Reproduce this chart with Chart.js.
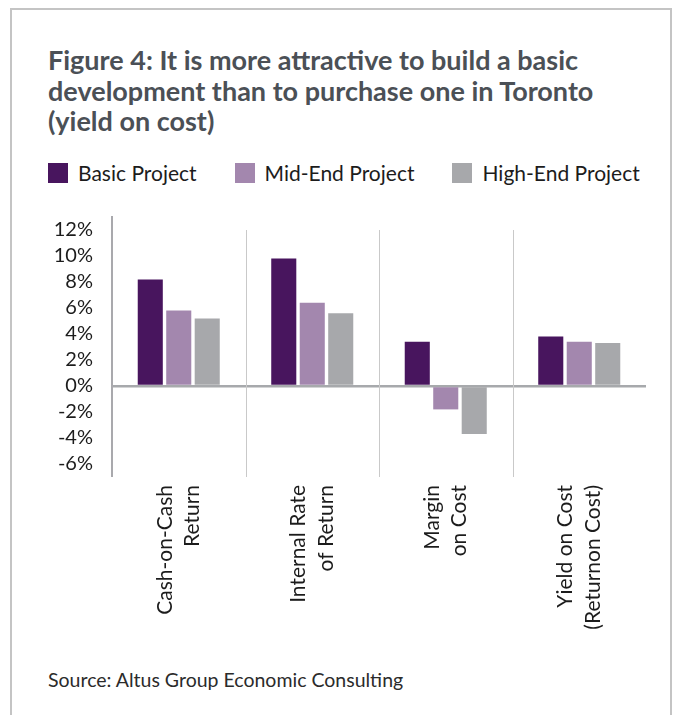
<!DOCTYPE html>
<html>
<head>
<meta charset="utf-8">
<script src="https://cdn.jsdelivr.net/npm/chart.js@4.4.1/dist/chart.umd.min.js"></script>
<style>
  body { margin: 0; background: #fff; font-family: Lato, "Open Sans", sans-serif; overflow: hidden; }
  .frame {
    position: absolute; left: 10px; top: 8px; width: 658px; height: 730px;
    border: 2px solid #c4c4c4; border-bottom: none;
  }
  h1 {
    position: absolute; left: 48px; top: 45px; margin: 0; width: 620px;
    font-size: 27px; line-height: 30.5px; font-weight: 700; color: #4b5056;
    white-space: nowrap;
  }
  #custom { position: absolute; left: 48px; top: 161px; white-space: nowrap; }
  #custom ul { list-style: none; margin: 0; padding: 0; display: flex; }
  #custom li { display: flex; align-items: center; margin-right: 38px; flex: none; }
  #custom span { display: inline-block; width: 20px; height: 20px; margin-right: 10px; }
  #custom p { margin: 0; font-size: 21px; line-height: 24px; color: #1c1c1c; }
  .box { position: absolute; left: 0; top: 186px; width: 675px; height: 454px; }
  .source {
    position: absolute; left: 48px; top: 668px; margin: 0;
    font-size: 19.5px; line-height: 24px; color: #2b2b2b;
  }
</style>
</head>
<body>
<div class="frame"></div>
<h1>Figure 4: It is more attractive to build a basic<br>development than to purchase one in Toronto<br>(yield on cost)</h1>
<div id="custom"></div>
<div class="box"><canvas id="yield"></canvas></div>
<p class="source">Source: Altus Group Economic Consulting</p>

<script>
// data (percent)
const categories = [
  ["Cash-on-Cash", "Return"],
  ["Internal Rate", "of Return"],
  ["Margin", "on Cost"],
  ["Yield on Cost", "(Returnon Cost)"]
];
const basicProject = [8.2, 9.8, 3.4, 3.8];
const midEndProject = [5.8, 6.4, -1.8, 3.4];
const highEndProject = [5.2, 5.6, -3.7, 3.3];
const yTicks = [-6, -4, -2, 0, 2, 4, 6, 8, 10, 12];

Chart.defaults.font.family = "Lato, 'Open Sans', sans-serif";
Chart.defaults.color = "#1c1c1c";

// light vertical lines between the groups
const separators = {
  id: "separators",
  beforeDatasetsDraw(chart) {
    const x = chart.scales.x;
    const y = chart.scales.y;
    const ctx = chart.ctx;
    ctx.save();
    ctx.strokeStyle = "#c9c9c9";
    ctx.lineWidth = 1;
    for (let i = 1; i < categories.length; i++) {
      const px = Math.round((x.getPixelForTick(i - 1) + x.getPixelForTick(i)) / 2) + 0.5;
      ctx.beginPath();
      ctx.moveTo(px, y.getPixelForValue(yTicks[yTicks.length - 1]));
      ctx.lineTo(px, chart.chartArea.bottom);
      ctx.stroke();
    }
    ctx.restore();
  }
};

const yieldChart = new Chart(document.getElementById("yield"), {
  type: "bar",
  data: {
    labels: categories,
    datasets: [
      { label: "Basic Project", data: basicProject, backgroundColor: "#48155e" },
      { label: "Mid-End Project", data: midEndProject, backgroundColor: "#a387ae" },
      { label: "High-End Project", data: highEndProject, backgroundColor: "#a7a8ab" }
    ]
  },
  options: {
    responsive: true,
    maintainAspectRatio: false,
    animation: false,
    layout: { padding: { left: 0, right: 29, top: 0, bottom: 0 } },
    datasets: {
      bar: { categoryPercentage: 0.64, barPercentage: 0.88 }
    },
    plugins: {
      legend: { display: false },
      tooltip: { enabled: false }
    },
    scales: {
      x: {
        grid: { display: false },
        border: { display: false },
        ticks: {
          minRotation: 90,
          maxRotation: 90,
          padding: 0,
          labelOffset: -14,
          color: "#1c1c1c",
          font: { size: 21, lineHeight: 1.33 }
        },
        afterFit: (scale) => { scale.height = 163; }
      },
      y: {
        min: -7,
        max: 13,
        afterBuildTicks: (scale) => {
          scale.ticks = yTicks.map((v) => ({ value: v }));
        },
        afterFit: (scale) => { scale.width = 112; },
        border: { display: true, color: "#a9a9ad", width: 2 },
        grid: {
          drawTicks: false,
          color: (ctx) => (ctx.tick && ctx.tick.value === 0 ? "#a7a9ac" : "transparent"),
          lineWidth: (ctx) => (ctx.tick && ctx.tick.value === 0 ? 2.5 : 0)
        },
        ticks: {
          autoSkip: false,
          padding: 19,
          color: "#1c1c1c",
          font: { size: 20 },
          callback: (value) => value + "%"
        }
      }
    }
  },
  plugins: [separators]
});

// generate legend from the chart's own legend items
function generateLegend() {
  const div = document.getElementById("custom");
  const ul = document.createElement("ul");
  yieldChart.legend.legendItems.forEach((item) => {
    const li = document.createElement("li");
    const span = document.createElement("span");
    span.style.backgroundColor = item.fillStyle;
    const p = document.createElement("p");
    p.textContent = item.text;
    li.appendChild(span);
    li.appendChild(p);
    ul.appendChild(li);
  });
  div.appendChild(ul);
}

generateLegend();
</script>
</body>
</html>
